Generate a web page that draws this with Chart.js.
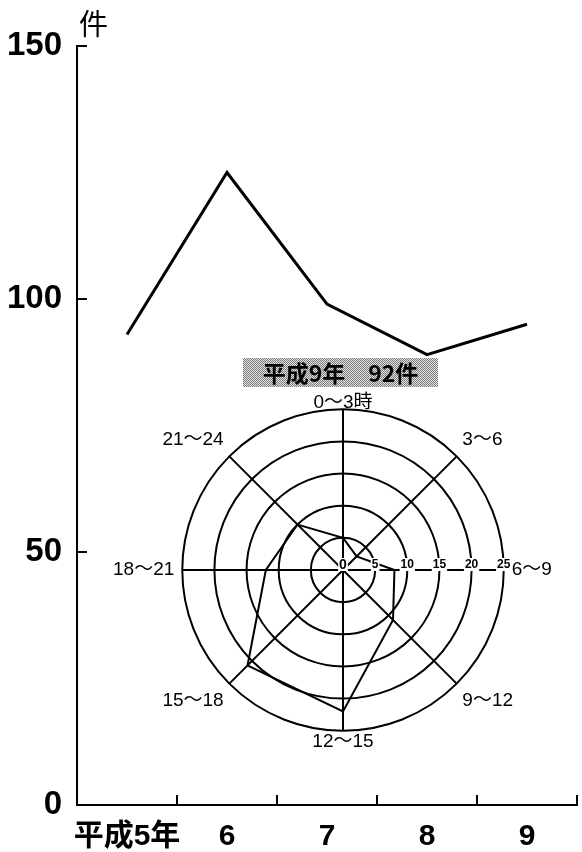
<!DOCTYPE html>
<html>
<head>
<meta charset="utf-8">
<script src="https://cdn.jsdelivr.net/npm/chart.js@4/dist/chart.umd.min.js"></script>
<style>
    body { margin: 0; background: #fff; }
    #wrap { position: relative; width: 582px; height: 852px; }
    #mainChart { position: absolute; left: 0; top: 0; }
    #radarChart { position: absolute; left: 103px; top: 343px; }
    #radarTitle {
        position: absolute; left: 243px; top: 358px; width: 195px; height: 29px;
        background: repeating-conic-gradient(#7a7a7a 0 25%, #e4e4e4 0 50%) 0 0 / 2px 2px;
        font: bold 23px "Noto Sans CJK JP", sans-serif; line-height: 29px;
        text-align: center; color: #000; white-space: pre;
    }
</style>
</head>
<body>
<div id="wrap">
    <canvas id="mainChart" width="582" height="852"></canvas>
    <canvas id="radarChart" width="460" height="460"></canvas>
    <div id="radarTitle">平成9年　92件</div>
</div>
<script>
// yearly totals
let years = ['平成5年', '6', '7', '8', '9'];
let counts = [93, 125, 99, 89, 95];
let unitLabel = '件';

// 平成9年 by time of day
let hours = ['0〜3時', '3〜6', '6〜9', '9〜12', '12〜15', '15〜18', '18〜21', '21〜24'];
let hourCounts = [5, 3, 8, 11, 22, 21, 12, 10];

let numFont = "'Liberation Sans', 'Noto Sans CJK JP'";

// "件" next to the top of the y axis
let unitPlugin = {
    id: 'unit',
    afterDraw(chart) {
        let ctx = chart.ctx;
        let y = chart.scales.y;
        ctx.save();
        ctx.font = "29px 'Noto Sans CJK JP'";
        ctx.fillStyle = '#000';
        ctx.textBaseline = 'middle';
        ctx.textAlign = 'left';
        ctx.fillText(unitLabel, y.right + 2, y.top - 22);
        ctx.restore();
    }
};

// radar tick numbers along the 6〜9 spoke
let radarTickPlugin = {
    id: 'radarTicks',
    afterDraw(chart) {
        let ctx = chart.ctx;
        let r = chart.scales.r;
        ctx.save();
        r.ticks.forEach(t => {
            let p = r.getPointPositionForValue(2, t.value);
            ctx.font = (t.value === 0 ? "bold 14px " : "bold 12px ") + numFont;
            ctx.textAlign = 'center';
            ctx.textBaseline = 'middle';
            let w = ctx.measureText(t.label).width;
            ctx.fillStyle = '#fff';
            ctx.fillRect(p.x - w / 2 - 1, p.y - 12, w + 2, 13);
            ctx.fillStyle = '#000';
            ctx.fillText(t.label, p.x, p.y - 5);
        });
        ctx.restore();
    }
};

function drawMain() {
    let ctx = document.getElementById('mainChart').getContext('2d');
    new Chart(ctx, {
        type: 'line',
        data: {
            labels: years,
            datasets: [{
                data: counts,
                borderColor: '#000',
                borderWidth: 3,
                pointRadius: 0,
                tension: 0
            }]
        },
        options: {
            responsive: false,
            animation: false,
            layout: { padding: { top: 46, right: 5, left: 0, bottom: 0 } },
            plugins: { legend: { display: false }, tooltip: { enabled: false } },
            scales: {
                x: {
                    offset: true,
                    afterFit: s => { s.height = 47; },
                    border: { color: '#000', width: 2 },
                    grid: { offset: true, drawOnChartArea: false, tickLength: -10, color: '#000', lineWidth: 2 },
                    ticks: {
                        color: '#000', padding: 24, maxRotation: 0, minRotation: 0, autoSkip: false,
                        font: { family: numFont, size: 30, weight: 'bold' }
                    }
                },
                y: {
                    min: 0,
                    max: 150,
                    afterFit: s => { s.width = 77; },
                    border: { color: '#000', width: 2 },
                    grid: { drawOnChartArea: false, tickLength: -10, color: '#000', lineWidth: 2 },
                    ticks: { stepSize: 50, color: '#000', padding: 25, font: { family: numFont, size: 33, weight: 'bold' } }
                }
            }
        },
        plugins: [unitPlugin]
    });
}

function drawRadar() {
    let ctx = document.getElementById('radarChart').getContext('2d');
    new Chart(ctx, {
        type: 'radar',
        data: {
            labels: hours,
            datasets: [{
                data: hourCounts,
                borderColor: '#000',
                borderWidth: 2,
                backgroundColor: 'rgba(0,0,0,0)',
                fill: false,
                pointRadius: 0
            }]
        },
        options: {
            responsive: false,
            animation: false,
            plugins: { legend: { display: false }, tooltip: { enabled: false } },
            scales: {
                r: {
                    min: 0,
                    max: 25,
                    ticks: { stepSize: 5, display: false },
                    grid: { circular: true, color: '#000', lineWidth: 2 },
                    angleLines: { color: '#000', lineWidth: 2 },
                    pointLabels: {
                        color: '#000',
                        padding: c => (c.index === 0 ? -5 : c.index === 4 ? 0 : 8),
                        font: { family: numFont, size: 19 }
                    }
                }
            }
        },
        plugins: [radarTickPlugin]
    });
}

window.onload = function() {
    drawMain();
    drawRadar();
};
</script>
</body>
</html>
